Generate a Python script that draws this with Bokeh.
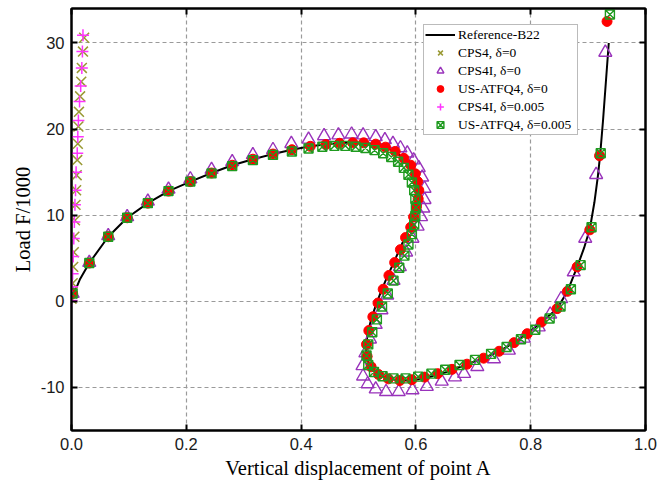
from bokeh.plotting import figure
from bokeh.models import (Range1d, FixedTicker, PrintfTickFormatter, LinearAxis, Legend,
                          LegendItem, CustomJSTickFormatter)
from bokeh.embed import file_html
from bokeh.resources import INLINE

# ---------------- data ----------------
x_ticks = [0.0, 0.2, 0.4, 0.6, 0.8, 1.0]
y_ticks = [-10, 0, 10, 20, 30]

# Reference-B22 (solid line)
ref_x = [0.000, 0.005, 0.015, 0.031, 0.064, 0.097, 0.133, 0.169, 0.207, 0.244, 0.280, 0.316,
         0.351, 0.384, 0.416, 0.445, 0.470, 0.490, 0.510, 0.530, 0.547, 0.564, 0.579, 0.591,
         0.599, 0.603, 0.605, 0.604, 0.601, 0.596, 0.589, 0.580, 0.570, 0.560, 0.549, 0.539,
         0.530, 0.522, 0.516, 0.513, 0.514, 0.520, 0.532, 0.548, 0.566, 0.585, 0.605, 0.625,
         0.645, 0.667, 0.689, 0.718, 0.745, 0.771, 0.794, 0.819, 0.846, 0.864, 0.881, 0.893,
         0.903, 0.911, 0.917, 0.921, 0.926, 0.931, 0.936]
ref_y = [0.0, 1.0, 2.6, 4.45, 7.5, 9.7, 11.4, 12.8, 13.9, 14.9, 15.8, 16.5,
         17.1, 17.6, 18.0, 18.25, 18.4, 18.45, 18.4, 18.25, 17.9, 17.35, 16.6, 15.8,
         14.8, 13.9, 12.9, 11.9, 11.0, 9.8, 8.6, 7.3, 5.8, 4.3, 2.7, 1.1,
         -0.5, -2.1, -3.7, -5.2, -6.5, -7.6, -8.4, -8.9, -9.15, -9.2, -9.05, -8.75,
         -8.4, -7.9, -7.3, -6.6, -5.8, -4.8, -3.75, -2.4, -0.85, 1.15, 4.0, 6.2,
         8.4, 11.5, 14.5, 17.0, 21.0, 25.5, 30.0]

# CPS4, delta=0
cps4_x = [0.000, 0.001, 0.002, 0.003, 0.004, 0.005, 0.006, 0.007, 0.008, 0.009,
          0.010, 0.011, 0.012, 0.013, 0.015, 0.017, 0.018, 0.020, 0.022]
cps4_y = [0.3, 0.9, 2.1, 4.0, 5.7, 7.5, 9.4, 11.2, 12.9, 14.65,
          16.4, 18.3, 20.3, 22.0, 23.8, 25.5, 27.1, 29.0, 30.6]

# CPS4I, delta=0
cps4i_x = [0.002, 0.031, 0.064, 0.097, 0.133, 0.169, 0.207, 0.244, 0.280, 0.316,
           0.351, 0.383, 0.413, 0.440, 0.465, 0.488, 0.508, 0.530, 0.546, 0.560,
           0.573, 0.585, 0.596, 0.605, 0.611, 0.615, 0.615, 0.613, 0.609, 0.603,
           0.594, 0.583, 0.572, 0.561, 0.550, 0.540, 0.530, 0.520, 0.512, 0.507,
           0.508, 0.516, 0.530, 0.548, 0.570, 0.594, 0.619, 0.645, 0.668, 0.684,
           0.707, 0.736, 0.762, 0.788, 0.814, 0.834, 0.853, 0.875, 0.895, 0.914, 0.930]
cps4i_y = [0.9, 4.5, 7.6, 9.8, 11.6, 13.0, 14.2, 15.3, 16.2, 17.0,
           17.6, 18.3, 18.8, 19.2, 19.3, 19.4, 19.3, 19.1, 18.75, 18.3,
           17.8, 17.2, 16.4, 15.5, 14.4, 13.1, 11.8, 10.8, 9.8, 8.7,
           7.3, 5.7, 4.0, 2.4, 0.7, -1.0, -2.7, -4.4, -6.0, -7.5,
           -8.7, -9.6, -10.2, -10.5, -10.5, -10.3, -9.9, -9.3, -8.8, -8.4,
           -7.6, -6.7, -5.7, -4.3, -3.0, -1.5, 0.3, 3.4, 7.3, 14.7, 28.9]

# US-ATFQ4, delta=0
atf0_x = [0.002, 0.031, 0.064, 0.097, 0.133, 0.169, 0.207, 0.244, 0.280, 0.316,
          0.351, 0.384, 0.416, 0.443, 0.467, 0.490, 0.509, 0.530, 0.547, 0.564,
          0.579, 0.591, 0.599, 0.603, 0.605, 0.604, 0.601, 0.596, 0.591, 0.582,
          0.573, 0.563, 0.553, 0.543, 0.534, 0.525, 0.518, 0.514, 0.515, 0.522,
          0.535, 0.552, 0.572, 0.593, 0.615, 0.638, 0.663, 0.689, 0.718, 0.745,
          0.771, 0.794, 0.819, 0.846, 0.864, 0.881, 0.903, 0.920, 0.933]
atf0_y = [0.9, 4.45, 7.5, 9.7, 11.4, 12.8, 13.9, 14.9, 15.8, 16.5,
          17.1, 17.6, 18.0, 18.2, 18.35, 18.4, 18.4, 18.25, 17.9, 17.4,
          16.6, 15.8, 14.8, 13.9, 12.9, 11.9, 11.0, 9.8, 8.6, 7.4,
          6.0, 4.5, 3.0, 1.4, -0.2, -1.8, -3.4, -5.0, -6.4, -7.6,
          -8.5, -9.0, -9.2, -9.1, -8.8, -8.4, -7.9, -7.3, -6.6, -5.8,
          -4.8, -3.76, -2.4, -0.85, 1.16, 4.0, 8.3, 16.9, 32.5]

# CPS4I, delta=0.005
cps4i5_x = [0.000, 0.001, 0.002, 0.003, 0.004, 0.005, 0.006, 0.007, 0.008, 0.010,
            0.011, 0.012, 0.014, 0.016, 0.018, 0.019, 0.020]
cps4i5_y = [0.1, 1.7, 3.2, 5.2, 7.3, 9.2, 11.2, 12.9, 15.0, 17.2,
            19.1, 21.0, 23.2, 25.0, 27.1, 29.0, 30.9]

# US-ATFQ4, delta=0.005
atf5_x = [0.002, 0.031, 0.064, 0.097, 0.133, 0.169, 0.207, 0.244, 0.280, 0.316,
          0.351, 0.384, 0.413, 0.437, 0.458, 0.477, 0.495, 0.512, 0.528, 0.543,
          0.557, 0.569, 0.579, 0.587, 0.593, 0.597, 0.599, 0.600, 0.599, 0.597,
          0.593, 0.587, 0.580, 0.571, 0.561, 0.551, 0.541, 0.532, 0.524, 0.517,
          0.514, 0.517, 0.527, 0.542, 0.561, 0.582, 0.604, 0.627, 0.651, 0.676,
          0.703, 0.731, 0.758, 0.783, 0.808, 0.833, 0.852, 0.870, 0.887, 0.906, 0.922, 0.938]
atf5_y = [0.9, 4.45, 7.5, 9.7, 11.4, 12.8, 13.9, 14.85, 15.7, 16.4,
          17.0, 17.4, 17.75, 17.95, 18.05, 18.05, 17.95, 17.8, 17.55, 17.2,
          16.75, 16.2, 15.5, 14.7, 13.8, 12.9, 11.9, 10.9, 9.9, 8.9,
          7.8, 6.6, 5.3, 3.9, 2.4, 0.9, -0.6, -2.1, -3.6, -5.0,
          -6.3, -7.4, -8.2, -8.7, -8.95, -8.95, -8.75, -8.4, -7.95, -7.4,
          -6.8, -6.1, -5.3, -4.4, -3.3, -2.0, -0.6, 1.4, 4.2, 8.6, 17.2, 33.3]

labels = ["Reference-B22", "CPS4, \u03b4=0", "CPS4I, \u03b4=0", "US-ATFQ4, \u03b4=0",
          "CPS4I, \u03b4=0.005", "US-ATFQ4, \u03b4=0.005"]

# ---------------- figure ----------------
SERIF = "Liberation Serif"
SANS = "Liberation Sans"

p = figure(width=659, height=486, output_backend="svg", toolbar_location=None,
           x_range=Range1d(0, 1.0), y_range=Range1d(-15, 34),
           min_border_left=71, min_border_right=14, min_border_top=8, min_border_bottom=56)
p.background_fill_color = "white"
p.border_fill_color = "white"
p.outline_line_color = "black"
p.outline_line_width = 2

def style_axis(ax, show_labels=True):
    ax.axis_line_color = "black"
    ax.axis_line_width = 2
    ax.major_tick_in = 6
    ax.major_tick_out = 0
    ax.major_tick_line_color = "black"
    ax.major_tick_line_width = 2
    ax.minor_tick_line_color = None
    if show_labels:
        ax.major_label_text_font = SANS
        ax.major_label_text_font_size = "16.5px"
        ax.major_label_text_color = "#1a1a1a"
        ax.major_label_standoff = 7
    else:
        ax.major_label_text_font_size = "0px"
        ax.major_label_standoff = 0

xax = p.xaxis[0]
yax = p.yaxis[0]
xax.ticker = FixedTicker(ticks=x_ticks)
yax.ticker = FixedTicker(ticks=y_ticks)
xax.formatter = PrintfTickFormatter(format="%.1f")
yax.formatter = PrintfTickFormatter(format="%d")
style_axis(xax)
style_axis(yax)
for ax, lab in ((xax, "Vertical displacement of point A"), (yax, "Load F/1000")):
    ax.axis_label = lab
    ax.axis_label_text_font = SERIF
    ax.axis_label_text_font_size = "20.5px"
    ax.axis_label_text_font_style = "normal"
    ax.axis_label_text_color = "black"
    ax.axis_label_standoff = 4

top = LinearAxis(ticker=FixedTicker(ticks=x_ticks), formatter=CustomJSTickFormatter(code="return ''"))
right = LinearAxis(ticker=FixedTicker(ticks=y_ticks), formatter=CustomJSTickFormatter(code="return ''"))
style_axis(top, False)
style_axis(right, False)
p.add_layout(top, "above")
p.add_layout(right, "right")

for g, t in ((p.xgrid[0], x_ticks), (p.ygrid[0], y_ticks)):
    g.ticker = FixedTicker(ticks=t)
    g.grid_line_color = "#9a9a9a"
    g.grid_line_dash = "4 3"
    g.grid_line_width = 1.2

# ---------------- glyphs ----------------
r_ref = p.line(ref_x, ref_y, line_color="black", line_width=2)
r_c4 = p.scatter(cps4_x, cps4_y, marker="x", size=14, line_color="#999933", line_width=1.5)
r_t = p.scatter(cps4i_x, cps4i_y, marker="triangle", size=13, line_color="#9933bb",
                fill_color=None, line_width=1.4)
r_a0 = p.scatter(atf0_x, atf0_y, marker="circle", size=10, fill_color="#ff0000", line_color="#ff0000")
r_c5 = p.scatter(cps4i5_x, cps4i5_y, marker="cross", size=12, line_color="#ff33ff", line_width=1.5)
r_a5 = p.scatter(atf5_x, atf5_y, marker="square_x", size=9, line_color="#1f9a1f",
                 fill_color=None, line_width=1.4)

legend = Legend(items=[LegendItem(label=l, renderers=[r]) for l, r in
                       zip(labels, [r_ref, r_c4, r_t, r_a0, r_c5, r_a5])],
                location=(352, 295))
legend.label_text_font = SERIF
legend.label_text_font_size = "13.5px"
legend.label_text_color = "black"
legend.glyph_width = 30
legend.glyph_height = 17
legend.label_height = 17
legend.label_width = 118
legend.spacing = 1
legend.padding = 1
legend.margin = 0
legend.label_standoff = 3
legend.border_line_color = "#777777"
legend.border_line_width = 1
legend.background_fill_alpha = 1
p.add_layout(legend)

open("out.html", "w").write(file_html(p, INLINE))
